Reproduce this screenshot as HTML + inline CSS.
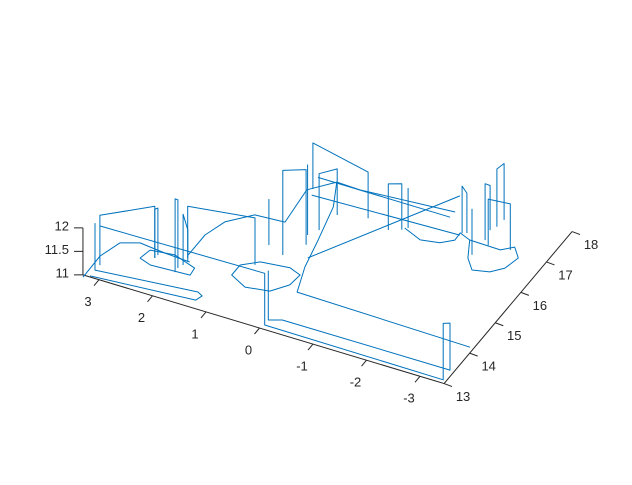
<!DOCTYPE html>
<html><head><meta charset="utf-8"><style>
body{margin:0;background:#fff}
svg text{font-family:"Liberation Sans",Arial,sans-serif;font-size:13px;fill:#262626}
</style></head><body>
<svg id="chart" width="632" height="480" viewBox="0 0 632 480" xmlns="http://www.w3.org/2000/svg">
<rect width="632" height="480" fill="#fff"/>
<g id="axes"></g>
<g id="series"></g>
</svg>
<script>
// axis limits & ticks
const xLim = [-3.45, 3.3];
const yLim = [13, 18];
const zLim = [11, 12];
const xTicks = [3, 2, 1, 0, -1, -2, -3];
const yTicks = [13, 14, 15, 16, 17, 18];
const zTicks = [11, 11.5, 12];
const zTickLabels = ['11', '11.5', '12'];

// trajectory segments: each as x, y, z arrays
const segX = [
  [3.27,3.28,3.15,2.85,2.35,1.87],
  [3.18,3.18,1.37,1.26,1.30,3.18],
  [3.08,-0.04,-0.04,-3.39,-3.39,-3.37,-3.37,-0.24,-0.03,-0.03],
  [2.66,2.61,2.18,1.72,1.70,2.42,2.66],
  [2.44,2.44,2.43,2.43],
  [1.96,1.96,1.97,1.97],
  [1.93,1.93,1.90,1.90],
  [1.95,1.95,0.86,0.86],
  [1.98,1.98,1.85,1.49,0.95,1.03,0.68,0.24,-1.46],
  [1.08,1.08,0.73,0.31,0.09,0.06,0.30,0.82,1.08],
  [-3.38,-0.11,0.09,0.23,0.42,0.68],
  [0.16,-1.33],
  [0.96,-1.51],
  [0.89,-1.82],
  [0.95,0.95,-0.24,-0.24],
  [0.57,0.57,0.35,0.35],
  [0.45,0.45],
  [0.34,0.34,0.26,0.26],
  [0.90,0.90],
  [-0.69,-0.69,-0.89,-0.89],
  [-0.96,-0.96],
  [-1.83,-1.83,-1.90,-1.90],
  [-2.25,-2.25],
  [-2.26,-2.26,-2.21,-2.21],
  [-2.27,-2.27,-2.29,-2.29],
  [-2.37,-2.37,-2.76,-2.76],
  [-0.91,-1.29,-1.62,-1.81,-1.80,-2.03,-2.61,-2.79,-2.98,-2.91,-2.73,-2.44,-2.23,-2.03],
  [3.17,3.17,2.44,2.44]
];
const segY = [
  [12.94,13.63,14.13,14.29,14.22,14.18],
  [13.22,13.22,13.46,13.39,13.23,13.03],
  [13.21,13.12,13.12,13.09,13.09,13.40,13.40,13.39,13.28,13.28],
  [13.89,14.18,14.25,14.06,13.84,13.79,13.89],
  [14.01,14.01,14.11,14.11],
  [13.80,13.80,13.93,13.93],
  [14.05,14.05,14.17,14.17],
  [14.27,14.27,14.62,14.62],
  [14.35,15.01,15.51,15.93,15.98,17.00,17.44,17.42,17.59],
  [14.50,14.17,13.96,14.05,14.37,14.71,14.82,14.74,14.50],
  [14.16,14.24,14.96,15.77,16.76,17.44],
  [15.22,18.05],
  [17.29,17.29],
  [16.90,17.02],
  [17.07,17.07,16.74,16.74],
  [15.10,15.10,15.55,15.55],
  [15.82,15.82],
  [16.04,16.04,16.58,16.58],
  [15.25,15.25],
  [16.59,16.59,16.70,16.70],
  [16.80,16.80],
  [17.09,17.09,17.13,17.13],
  [16.60,16.60],
  [17.09,17.09,17.39,17.39],
  [17.53,17.53,17.77,17.77],
  [16.98,16.98,17.03,17.03],
  [16.77,16.58,16.66,16.85,17.08,16.97,16.95,17.14,16.88,16.51,16.29,16.20,16.48,16.97],
  [13.39,13.39,14.01,14.01]
];
const segZ = [
  [11,11,11,11,11,11],
  [12.0,11,11,11,11,11],
  [11.98,12.1,11,11,12.2,12.0,11,11,11,12.05],
  [11,11,11,11,11,11,11],
  [11,12.04,12.0,11],
  [11,12.56,12.45,11],
  [11,12.08,11.68,11],
  [11,12.1,12.0,11],
  [11,11,11,11,11,11,11,11,11],
  [11,11,11,11,11,11,11,11,11],
  [11,11,11,11,11,11],
  [11,11],
  [11.1,11.1],
  [11,11],
  [11,11.98,11.98,11],
  [11,12.8,12.6,11],
  [11,12.5],
  [11,12.2,11.98,11],
  [11,11.98],
  [11,11.98,11.98,11],
  [11,11.85],
  [11,12.0,11.85,11],
  [11,11.98],
  [11,12.2,11.95,11],
  [11,12.23,12.2,11],
  [11,11.98,11.98,11],
  [11,11,11,11,11,11,11,11,11,11,11,11,11,11],
  [11,12.06,12.1,11]
];

// projection (MATLAB default 3-D view)
function px(x, y, z) { return 259.5 - 53.5 * x + 25.6 * (y - 13); }
function py(x, y, z) { return 328 - 16.1 * x - 30.4 * (y - 13) - 47 * (z - 11); }

const NS = 'http://www.w3.org/2000/svg';
const axes = document.getElementById('axes');
const series = document.getElementById('series');
function line(g, x1, y1, x2, y2, name) {
  const l = document.createElementNS(NS, 'line');
  l.setAttribute('x1', x1); l.setAttribute('y1', y1);
  l.setAttribute('x2', x2); l.setAttribute('y2', y2);
  l.setAttribute('stroke', '#262626'); l.setAttribute('stroke-width', '1');
  
  
  g.appendChild(l);
}
function text(g, x, y, s, anchor, name) {
  const t = document.createElementNS(NS, 'text');
  t.setAttribute('x', x); t.setAttribute('y', y);
  t.setAttribute('text-anchor', anchor);
  t.setAttribute('dominant-baseline', 'middle');
  t.textContent = s;
  
  
  g.appendChild(t);
}
// x axis
line(axes, px(xLim[1],13,11), py(xLim[1],13,11), px(xLim[0],13,11), py(xLim[0],13,11), 'x-axis-line');
xTicks.forEach(v => {
  const a = px(v,13,11), b = py(v,13,11);
  line(axes, a, b, a-5, b+6, 'x-tick');
  text(axes, a-11, b+23, String(v).replace('-', '-'), 'middle', 'x-tick-label');
});
// y axis
line(axes, px(xLim[0],yLim[0],11), py(xLim[0],yLim[0],11), px(xLim[0],yLim[1],11), py(xLim[0],yLim[1],11), 'y-axis-line');
yTicks.forEach(v => {
  const a = px(xLim[0],v,11), b = py(xLim[0],v,11);
  line(axes, a, b, a+8, b+3, 'y-tick');
  text(axes, a+19, b+14, String(v), 'middle', 'y-tick-label');
});
// z axis
line(axes, px(xLim[1],13,zLim[0]), py(xLim[1],13,zLim[0]), px(xLim[1],13,zLim[1]), py(xLim[1],13,zLim[1]), 'z-axis-line');
zTicks.forEach((v, i) => {
  const a = px(xLim[1],13,v), b = py(xLim[1],13,v);
  line(axes, a, b, a-9, b, 'z-tick');
  text(axes, a-14, b-1, zTickLabels[i], 'end', 'z-tick-label');
});
// series
segX.forEach((xs, i) => {
  const pts = xs.map((x, j) => px(x, segY[i][j], segZ[i][j]).toFixed(1) + ',' + py(x, segY[i][j], segZ[i][j]).toFixed(1)).join(' ');
  const p = document.createElementNS(NS, 'polyline');
  p.setAttribute('points', pts);
  p.setAttribute('fill', 'none');
  p.setAttribute('stroke', '#0072BD');
  p.setAttribute('stroke-width', '1');
  p.setAttribute('stroke-linejoin', 'round');
  
  
  series.appendChild(p);
});
</script>
</body></html>
